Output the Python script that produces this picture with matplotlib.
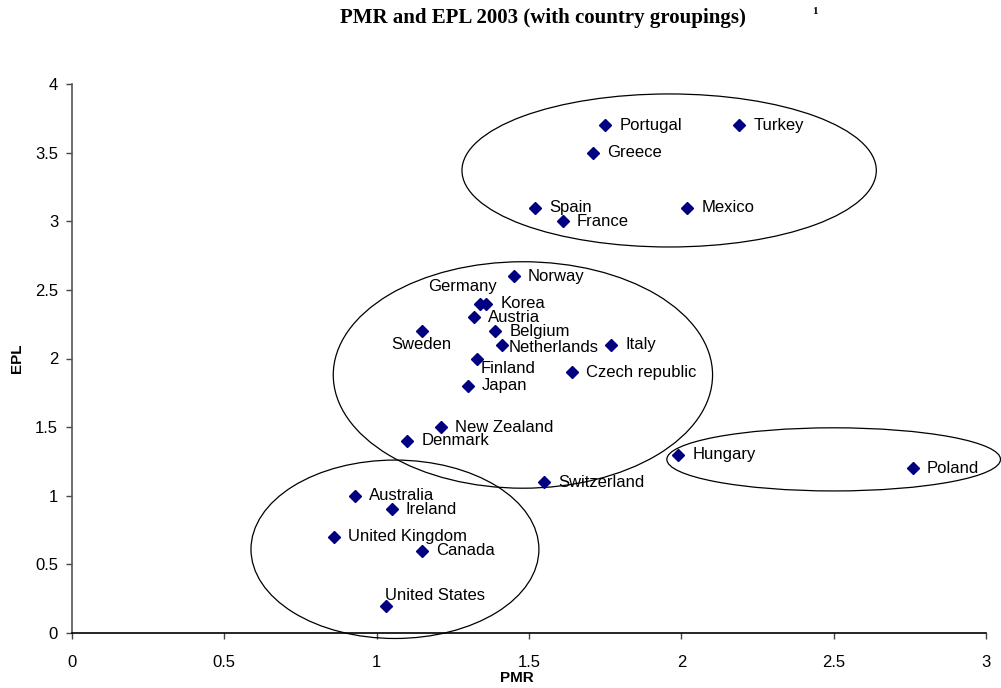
import matplotlib
matplotlib.use("Agg")
import matplotlib.pyplot as plt
from matplotlib.patches import Ellipse

countries = ["Portugal", "Turkey", "Greece", "Spain", "France", "Mexico",
             "Norway", "Germany", "Korea", "Austria", "Belgium", "Sweden",
             "Netherlands", "Italy", "Finland", "Czech republic", "Japan",
             "New Zealand", "Denmark", "Hungary", "Poland", "Switzerland",
             "Australia", "Ireland", "United Kingdom", "Canada", "United States"]
pmr = [1.75, 2.19, 1.71, 1.52, 1.61, 2.02,
       1.45, 1.34, 1.36, 1.32, 1.39, 1.15,
       1.41, 1.77, 1.33, 1.64, 1.30,
       1.21, 1.10, 1.99, 2.76, 1.55,
       0.93, 1.05, 0.86, 1.15, 1.03]
epl = [3.7, 3.7, 3.5, 3.1, 3.0, 3.1,
       2.6, 2.4, 2.4, 2.3, 2.2, 2.2,
       2.1, 2.1, 2.0, 1.9, 1.8,
       1.5, 1.4, 1.3, 1.2, 1.1,
       1.0, 0.9, 0.7, 0.6, 0.2]

# country groupings (ellipses): centre x, centre y, width, height
group_cx = [1.96, 1.48, 1.06, 2.50]
group_cy = [3.37, 1.88, 0.61, 1.265]
group_w = [1.36, 1.245, 0.945, 1.095]
group_h = [1.115, 1.65, 1.30, 0.46]

x_ticks = [0, 0.5, 1, 1.5, 2, 2.5, 3]
y_ticks = [0, 0.5, 1, 1.5, 2, 2.5, 3, 3.5, 4]

# label placement (pixel offsets, alignment) for special cases
label_style = {
    "Germany": (-18, 17, "center", "center"),
    "Sweden": (-1, -13, "center", "center"),
    "Finland": (3, -10, "left", "center"),
    "United States": (-1, 10, "left", "center"),
    "Netherlands": (7, -3, "left", "center"),
}

W, H = 1001, 688
fig = plt.figure(figsize=(W / 100, H / 100), dpi=100)
ax = fig.add_axes([72 / W, (H - 633) / H, (986 - 72) / W, (633 - 84) / H])

ax.plot(pmr, epl, linestyle="none", marker="D", markersize=6.5,
        color="#000080", zorder=3, clip_on=False)

for name, x, y in zip(countries, pmr, epl):
    dx, dy, ha, va = label_style.get(name, (14, 0, "left", "center"))
    ax.annotate(name, (x, y), xytext=(dx, dy), textcoords="offset pixels",
                ha=ha, va=va, fontsize=12, family="Liberation Sans",
                color="black", zorder=4, annotation_clip=False)

for cx, cy, w, h in zip(group_cx, group_cy, group_w, group_h):
    e = Ellipse((cx, cy), w, h, fill=False, edgecolor="black",
                linewidth=0.9, clip_on=False, zorder=2)
    ax.add_patch(e)

ax.set_xlim(0, 3)
ax.set_ylim(0, 4)
ax.set_xticks(x_ticks)
ax.set_yticks(y_ticks)
ax.set_xticklabels([f"{t:g}" for t in x_ticks], family="Liberation Sans", fontsize=12)
ax.set_yticklabels([f"{t:g}" for t in y_ticks], family="Liberation Sans", fontsize=12)
ax.tick_params(direction="out", length=4, width=1, color="#444444")
ax.tick_params(axis="x", pad=12)
ax.tick_params(axis="y", pad=6)
for s in ["top", "right"]:
    ax.spines[s].set_visible(False)
for s in ["left", "bottom"]:
    ax.spines[s].set_linewidth(1.2)
ax.spines["left"].set_color("#555555")
ax.spines["bottom"].set_color("black")

ax.set_xlabel("PMR", fontsize=11, fontweight="bold", family="Liberation Sans")
ax.set_ylabel("EPL", fontsize=11, fontweight="bold", family="Liberation Sans")
ax.xaxis.set_label_coords((517 - 72) / (986 - 72), -(678 - 633) / (633 - 84))
ax.yaxis.set_label_coords(-(72 - 17) / (986 - 72), (633 - 358) / (633 - 84))
ax.xaxis.label.set_va("center")
ax.yaxis.label.set_va("center")

fig.text(543 / W, 1 - 18 / H, "PMR and EPL 2003 (with country groupings)",
         ha="center", va="center", fontsize=15, fontweight="bold",
         family="Liberation Serif")
fig.text(815 / W, 1 - 12 / H, "1", ha="center", va="center", fontsize=8,
         fontweight="bold", family="Liberation Serif")

fig.savefig("out.png", dpi=100)
